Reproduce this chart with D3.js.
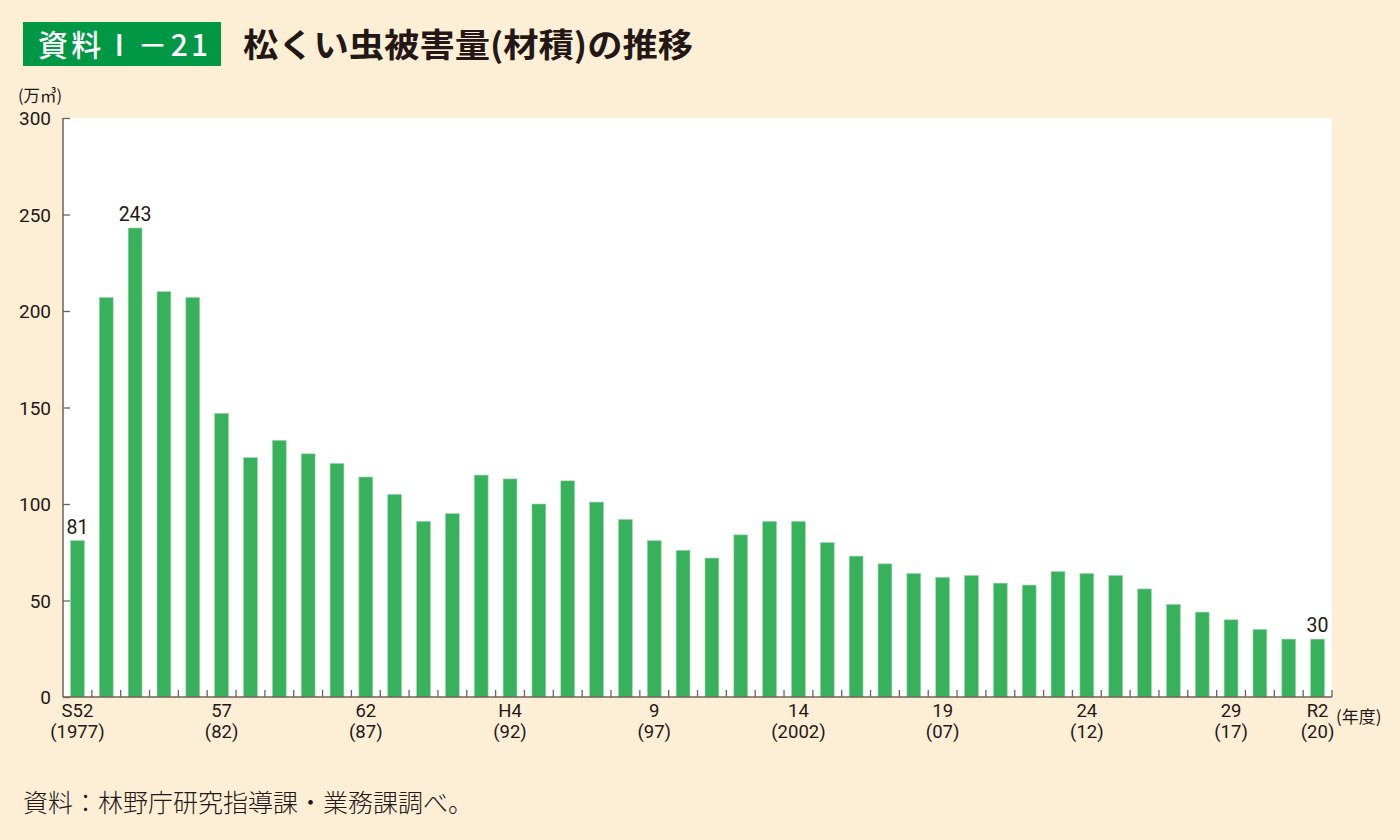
<!DOCTYPE html>
<html><head><meta charset="utf-8">
<script src="https://cdn.jsdelivr.net/npm/d3@7"></script>
<style>
html,body{margin:0;padding:0;background:#fdefd6;}
svg{display:block;}
</style></head>
<body>
<svg id="chart" width="1400" height="840"></svg>
<script>
const years = d3.range(1977, 2021);
const values = [81,207,243,210,207,147,124,133,126,121,114,105,91,95,115,113,100,112,101,92,81,76,72,84,91,91,80,73,69,64,62,63,59,58,65,64,63,56,48,44,40,35,30,30];
const labelYears = [1977,1982,1987,1992,1997,2002,2007,2012,2017,2020];
const labelLine1 = ["S52","57","62","H4","9","14","19","24","29","R2"];
const labelLine2 = ["(1977)","(82)","(87)","(92)","(97)","(2002)","(07)","(12)","(17)","(20)"];
const annotatedYears = [1977,1979,2020];
const yTicks = [0,50,100,150,200,250,300];

(function(){
const svg = d3.select("#chart");
const W=1400,H=840;
svg.append("rect").attr("width",W).attr("height",H).attr("fill","#fdefd6");

const pL=63,pR=1332,pT=118,pB=697;
const x = d3.scaleBand().domain(years).range([pL,pR]).paddingInner(0.52).paddingOuter(0.26);
const y = d3.scaleLinear().domain([0,300]).range([pB,pT]);
const axisColor="#6e625a", textColor="#231815";
const numFont="Roboto, 'Noto Sans', sans-serif";
const jpFont="'Noto Sans CJK JP', sans-serif";

// title
svg.append("rect").attr("x",23).attr("y",22).attr("width",198).attr("height",44).attr("fill","#009844");
svg.append("text").attr("x",38).attr("y",56).attr("fill","#fff")
  .attr("font-family",jpFont).attr("font-weight",500).attr("font-size",30)
  .attr("textLength",170).attr("lengthAdjust","spacing").text("資料Ⅰ－21");
svg.append("text").attr("x",243).attr("y",57).attr("fill",textColor)
  .attr("font-family",jpFont).attr("font-weight",700).attr("font-size",33)
  .attr("textLength",450).attr("lengthAdjust","spacingAndGlyphs").text("松くい虫被害量(材積)の推移");

// plot bg
svg.append("rect").attr("x",pL).attr("y",pT).attr("width",pR-pL).attr("height",pB-pT).attr("fill","#fff");

// unit
svg.append("text").attr("x",18).attr("y",102).attr("fill",textColor)
  .attr("font-family",jpFont).attr("font-size",16.5).text("(万㎥)");

// bars
svg.append("g").selectAll("rect").data(years).join("rect")
  .attr("x",d=>x(d)).attr("width",x.bandwidth())
  .attr("y",(d,i)=>y(values[i])).attr("height",(d,i)=>pB-y(values[i]))
  .attr("fill","#38b15d").attr("stroke","#9ed9ac").attr("stroke-width",0.6);

// y axis
const yAxis = d3.axisRight(y).tickValues(yTicks).tickSize(7).tickFormat("");
const gy = svg.append("g").attr("transform",`translate(${pL},0)`).call(yAxis);
gy.select(".domain").attr("stroke",axisColor).attr("stroke-width",1.5).attr("d",`M0,${pT}V${pB}`);
gy.selectAll(".tick line").attr("stroke",axisColor).attr("stroke-width",1.3);
svg.append("g").selectAll("text").data(yTicks).join("text")
  .attr("x",51).attr("y",d=>y(d)+7).attr("text-anchor","end").attr("fill",textColor)
  .attr("font-family",numFont).attr("font-size",19).text(d=>d);

// x axis baseline and ticks at band boundaries
const step = x.step();
const boundaries = years.map(d=>x(d)+x.bandwidth()/2+step/2);
svg.append("line").attr("x1",pL).attr("x2",pR).attr("y1",pB).attr("y2",pB)
  .attr("stroke",axisColor).attr("stroke-width",1.5);
svg.append("g").selectAll("line").data(boundaries).join("line")
  .attr("x1",d=>d).attr("x2",d=>d).attr("y1",pB).attr("y2",pB-7)
  .attr("stroke",axisColor).attr("stroke-width",1.3);

// x labels
const xl = svg.append("g");
labelYears.forEach((yr,i)=>{
  const cx = x(yr)+x.bandwidth()/2;
  xl.append("text").attr("x",cx).attr("y",717).attr("text-anchor","middle").attr("fill",textColor)
    .attr("font-family",numFont).attr("font-size",18.5).text(labelLine1[i]);
  xl.append("text").attr("x",cx).attr("y",738).attr("text-anchor","middle").attr("fill",textColor)
    .attr("font-family",numFont).attr("font-size",18.5).text(labelLine2[i]);
});
svg.append("text").attr("x",1336).attr("y",723).attr("fill",textColor)
  .attr("font-family",jpFont).attr("font-size",17).text("(年度)");

// annotations
svg.append("g").selectAll("text").data(annotatedYears).join("text")
  .attr("x",d=>x(d)+x.bandwidth()/2).attr("y",d=>y(values[years.indexOf(d)])-7)
  .attr("text-anchor","middle").attr("fill",textColor)
  .attr("font-family",numFont).attr("font-size",19.5).text(d=>values[years.indexOf(d)]);

// source
svg.append("text").attr("x",23).attr("y",812).attr("fill",textColor)
  .attr("font-family",jpFont).attr("font-weight",300).attr("font-size",25)
  .text("資料：林野庁研究指導課・業務課調べ。");
})();
</script>
</body></html>
